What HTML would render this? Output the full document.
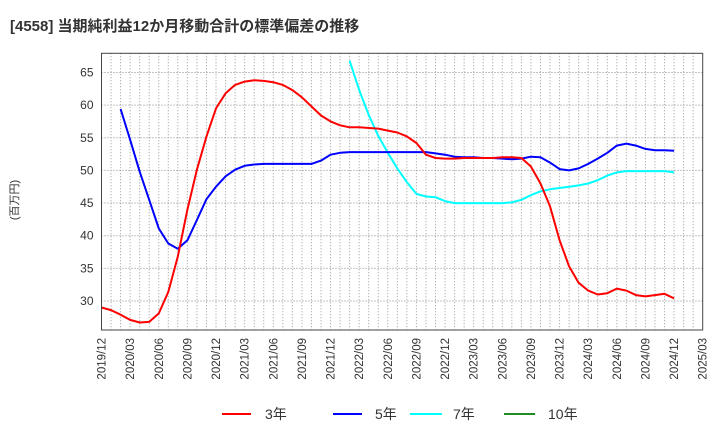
<!DOCTYPE html>
<html><head><meta charset="utf-8"><style>
body{margin:0;background:#fff;width:720px;height:440px;overflow:hidden;font-family:"Liberation Sans","Noto Sans CJK JP",sans-serif}
</style></head><body>
<svg width="720" height="440" xmlns="http://www.w3.org/2000/svg" font-family="Liberation Sans, Noto Sans CJK JP, sans-serif">
<text x="10" y="31" font-size="15" font-weight="bold" fill="#333">[4558]  当期純利益12か月移動合計の標準偏差の推移</text>
<text transform="translate(18,200) rotate(-90)" text-anchor="middle" font-size="11" fill="#333">(百万円)</text>
<g id="grid"></g><g id="series"></g><g id="axes"></g>
<g font-size="14" fill="#333">
<line x1="222" y1="414" x2="251" y2="414" stroke="#f00" stroke-width="2"/><text x="265" y="419">3年</text>
<line x1="333" y1="414" x2="362" y2="414" stroke="#00f" stroke-width="2"/><text x="375" y="419">5年</text>
<line x1="410" y1="414" x2="442" y2="414" stroke="#0ff" stroke-width="2"/><text x="453" y="419">7年</text>
<line x1="504" y1="414" x2="535" y2="414" stroke="#228b22" stroke-width="2"/><text x="548" y="419">10年</text>
</g>
</svg>
<script>
const yTicks=[30,35,40,45,50,55,60,65];
const xLabels=["2019/12","2020/03","2020/06","2020/09","2020/12","2021/03","2021/06","2021/09","2021/12","2022/03","2022/06","2022/09","2022/12","2023/03","2023/06","2023/09","2023/12","2024/03","2024/06","2024/09","2024/12","2025/03"];
const s3=[29.0,28.6,27.9,27.1,26.7,26.8,28.1,31.4,36.8,44.0,50.1,55.2,59.5,61.8,63.1,63.6,63.8,63.7,63.5,63.1,62.3,61.2,59.8,58.4,57.5,56.9,56.6,56.6,56.5,56.4,56.1,55.8,55.2,54.2,52.4,51.9,51.8,51.8,51.9,51.9,51.9,51.9,52.0,52.0,51.9,50.6,48.0,44.5,39.3,35.3,32.8,31.6,31.0,31.2,31.9,31.6,30.9,30.7,30.9,31.1,30.4];
const s5=[null,null,59.4,54.7,49.8,45.5,41.1,38.8,38.0,39.3,42.4,45.6,47.5,49.1,50.1,50.7,50.9,51.0,51.0,51.0,51.0,51.0,51.0,51.5,52.4,52.7,52.8,52.8,52.8,52.8,52.8,52.8,52.8,52.8,52.8,52.6,52.4,52.1,52.0,52.0,51.9,51.9,51.8,51.7,51.8,52.1,52.0,51.2,50.2,50.0,50.3,51.0,51.8,52.7,53.8,54.1,53.8,53.3,53.1,53.1,53.0];
const s7=[null,null,null,null,null,null,null,null,null,null,null,null,null,null,null,null,null,null,null,null,null,null,null,null,null,null,66.8,62.3,58.5,55.3,52.7,50.3,48.2,46.4,46.0,45.9,45.3,45.0,45.0,45.0,45.0,45.0,45.0,45.1,45.5,46.2,46.8,47.1,47.3,47.5,47.7,48.0,48.5,49.2,49.7,49.9,49.9,49.9,49.9,49.9,49.7];
const L=101.5,R=702.7,T=53.3,B=330,NM=63;
const xs=i=>L+(R-L)*i/NM;
const ys=v=>301-(v-30)*6.53;
const NS="http://www.w3.org/2000/svg";
function mk(t,a,p){const e=document.createElementNS(NS,t);for(const k in a)e.setAttribute(k,a[k]);p.appendChild(e);return e;}
const grid=document.getElementById('grid'),axes=document.getElementById('axes'),ser=document.getElementById('series');
for(let i=1;i<NM;i++){const l=mk('line',{x1:xs(i),x2:xs(i),y1:T,y2:B,stroke:'#999','stroke-dasharray':'1,2'},grid);

}
yTicks.forEach(v=>{const l=mk('line',{x1:L,x2:R,y1:ys(v),y2:ys(v),stroke:'#888','stroke-dasharray':'1,2'},grid);


const t=mk('text',{x:L-8,y:ys(v)+4,'text-anchor':'end','font-size':12,fill:'#333'},axes);t.textContent=v;

});
xLabels.forEach((s,k)=>{const x=xs(k*3);const t=mk('text',{transform:`translate(${x+4},${B+8}) rotate(-90)`,'text-anchor':'end','font-size':11.5,fill:'#333'},axes);t.textContent=s;

});
const fr=mk('rect',{x:L,y:T,width:R-L,height:B-T,fill:'none',stroke:'#444','stroke-width':1},axes);


function line(data,color,name){let d='';data.forEach((v,i)=>{if(v==null)return;d+=(d?'L':'M')+xs(i).toFixed(1)+','+ys(v).toFixed(1);});
const p=mk('path',{d:d,fill:'none',stroke:color,'stroke-width':2,'stroke-linejoin':'round'},ser);

}
line(s7,'#00ffff','series-7y');line(s5,'#0000ff','series-5y');line(s3,'#ff0000','series-3y');
</script>
</body></html>
